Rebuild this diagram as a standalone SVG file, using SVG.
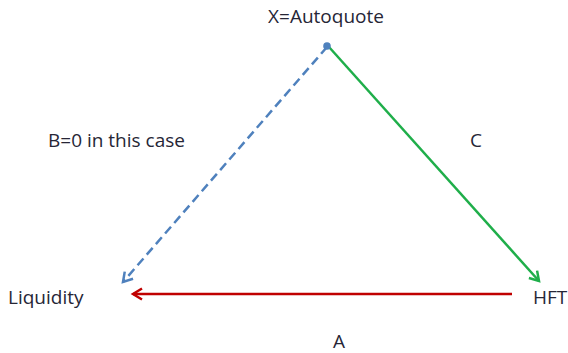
<svg xmlns="http://www.w3.org/2000/svg" width="568" height="353" viewBox="0 0 568 353">
<style>
text{font-family:"Open Sans","Liberation Sans",sans-serif;font-size:19px;fill:#262636}
.c{stroke-width:2.5;fill:none}
</style>
<defs>
<marker id="ab" markerWidth="14" markerHeight="14" refX="10" refY="7" orient="auto" markerUnits="userSpaceOnUse"><path d="M1,1.5 L10,7 L1,12.5" fill="none" stroke="#4f81bd" stroke-width="2.5"/></marker>
<marker id="ag" markerWidth="14" markerHeight="14" refX="10" refY="7" orient="auto" markerUnits="userSpaceOnUse"><path d="M1,1.5 L10,7 L1,12.5" fill="none" stroke="#1fae4a" stroke-width="2.5"/></marker>
<marker id="ar" markerWidth="14" markerHeight="14" refX="10" refY="7" orient="auto" markerUnits="userSpaceOnUse"><path d="M1,1.5 L10,7 L1,12.5" fill="none" stroke="#c00000" stroke-width="2.5"/></marker>
</defs>
<g id="connectors">
<line class="c" x1="327" y1="47" x2="123" y2="282" stroke="#4f81bd" stroke-dasharray="9,5" marker-end="url(#ab)"/>
<line class="c" x1="329" y1="47" x2="539" y2="281" stroke="#1fae4a" marker-end="url(#ag)"/>
<line class="c" x1="512" y1="294" x2="133" y2="294" stroke="#c00000" marker-end="url(#ar)"/>
<circle cx="327" cy="46" r="3.8" fill="#4f81bd"/>
</g>
<g id="node-x"><text x="326" y="23" text-anchor="middle">X=Autoquote</text></g>
<g id="label-b"><text x="48" y="147">B=0 in this case</text></g>
<g id="label-c"><text x="476" y="147" text-anchor="middle">C</text></g>
<g id="node-liquidity"><text x="8" y="304">Liquidity</text></g>
<g id="node-hft"><text x="533" y="304">HFT</text></g>
<g id="label-a"><text x="339" y="348" text-anchor="middle">A</text></g>
</svg>
